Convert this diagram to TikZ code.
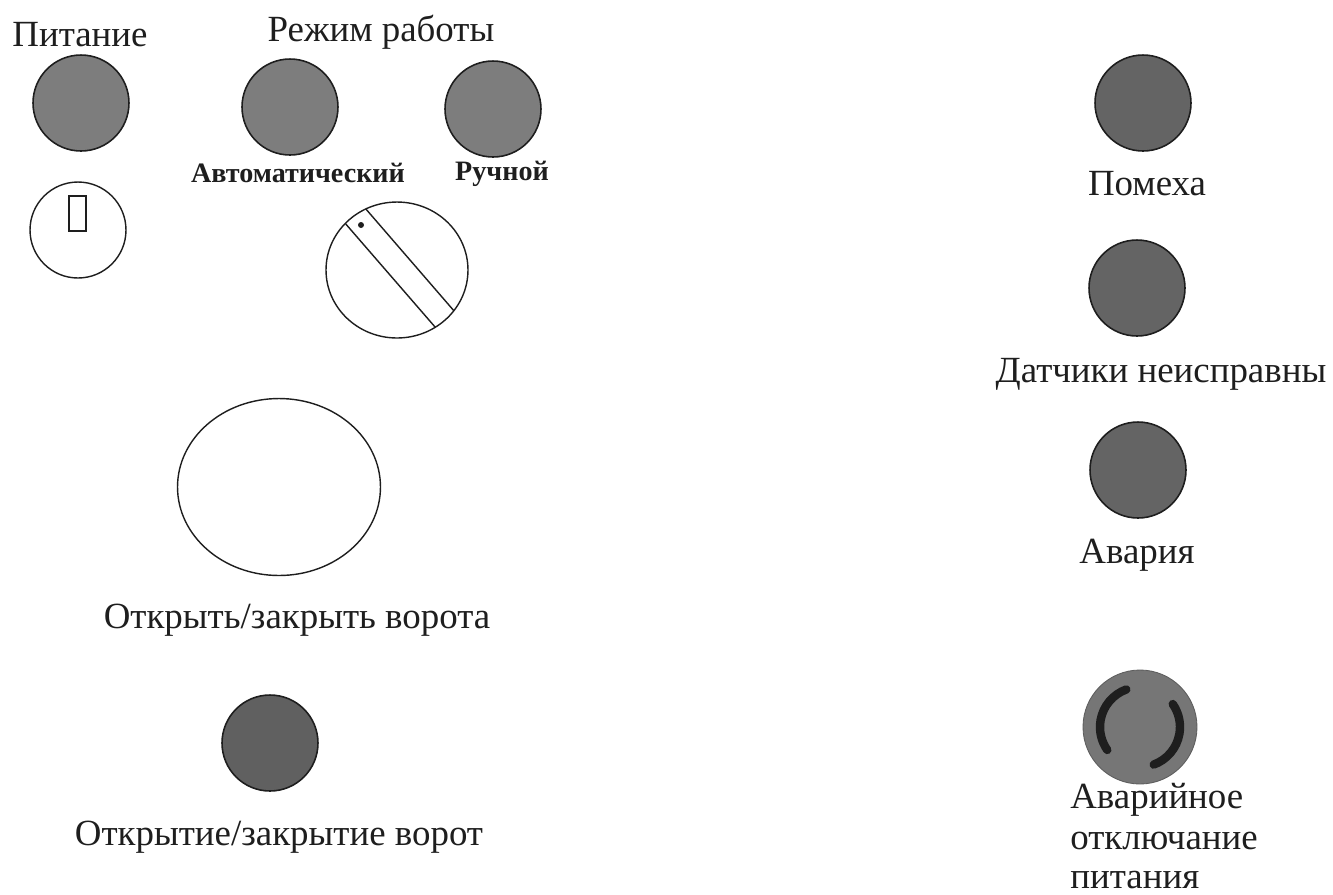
\documentclass[tikz,border=0pt]{standalone}
\usepackage{fontspec}
\setmainfont{Liberation Serif}
\usetikzlibrary{shapes.geometric}
\definecolor{lampL}{RGB}{125,125,125}
\definecolor{lampD}{RGB}{100,100,100}
\definecolor{lampG}{RGB}{96,96,96}
\definecolor{emg}{RGB}{118,118,118}
\definecolor{ink}{RGB}{30,30,30}
\begin{document}
\begin{tikzpicture}[x=0.02cm,y=-0.02cm,
  lbl/.style={font=\fontsize{21}{25}\selectfont, inner sep=0, anchor=base, text=ink},
  sml/.style={font=\bfseries\fontsize{16}{19}\selectfont, inner sep=0, anchor=base, text=ink},
  lamp/.style={circle, draw=ink, line width=0.9pt, minimum size=1.92cm, inner sep=0},
  white switch/.style={draw=ink, line width=0.8pt, fill=white, inner sep=0}
]
\useasboundingbox (0,0) rectangle (1333,894);
% left top
\node[lbl] (tpit) at (80,46) {Питание};
\node[lbl] (trej) at (381,41) {Режим работы};
\node[lamp, fill=lampL] (lpit) at (81,103) {};
\node[lamp, fill=lampL] (lauto) at (290,107) {};
\node[lamp, fill=lampL] (lman) at (493,109) {};
\node[sml] (tauto) at (298,182) {Автоматический};
\node[sml] (tman) at (502,180) {Ручной};
% key switch
\node[white switch, circle, minimum size=1.92cm] (key) at (78,230) {};
\node[draw=ink, line width=0.8pt, inner sep=0, minimum width=0.34cm, minimum height=0.7cm] (keyslot) at (77.5,213.5) {};
% selector
\node[white switch, ellipse, minimum width=2.84cm, minimum height=2.72cm] (sel) at (397,270) {};
\begin{scope}
  \clip (397,270) ellipse [x radius=1.42cm, y radius=1.36cm];
  \draw[ink, line width=0.8pt] (325,200) -- (455,350);
  \draw[ink, line width=0.8pt] (346,186) -- (474,334);
\end{scope}
\fill[ink] (361,225) circle [radius=0.06cm];
% big button
\node[white switch, ellipse, minimum width=4.06cm, minimum height=3.54cm] (gatebtn) at (279,487) {};
\node[lbl] (tgatebtn) at (297,628) {Открыть/закрыть ворота};
% gate lamp
\node[lamp, fill=lampG] (lgate) at (270,743) {};
\node[lbl] (tgate) at (279,845) {Открытие/закрытие ворот};
% right column
\node[lamp, fill=lampD] (lpom) at (1143,103) {};
\node[lbl] (tpom) at (1147,195) {Помеха};
\node[lamp, fill=lampD] (lsen) at (1137,288) {};
\node[lbl] (tsen) at (1161,382) {Датчики неисправны};
\node[lamp, fill=lampD] (lav) at (1138,470) {};
\node[lbl] (tav) at (1137,563) {Авария};
% emergency stop
\node[circle, fill=emg, draw=emg!80!black, line width=0.5pt, minimum size=2.28cm, inner sep=0] (estop) at (1140,727) {};
\draw[ink, line width=4.8pt, line cap=round] ([shift={(110:0.8cm)}]estop.center) arc[start angle=110, end angle=215, radius=0.8cm];
\draw[ink, line width=4.8pt, line cap=round] ([shift={(290:0.8cm)}]estop.center) arc[start angle=290, end angle=395, radius=0.8cm];
\node[lbl, anchor=base west] (te1) at (1070,808) {Аварийное};
\node[lbl, anchor=base west] (te2) at (1070,849) {отключание};
\node[lbl, anchor=base west] (te3) at (1070,888) {питания};
\end{tikzpicture}
\end{document}
